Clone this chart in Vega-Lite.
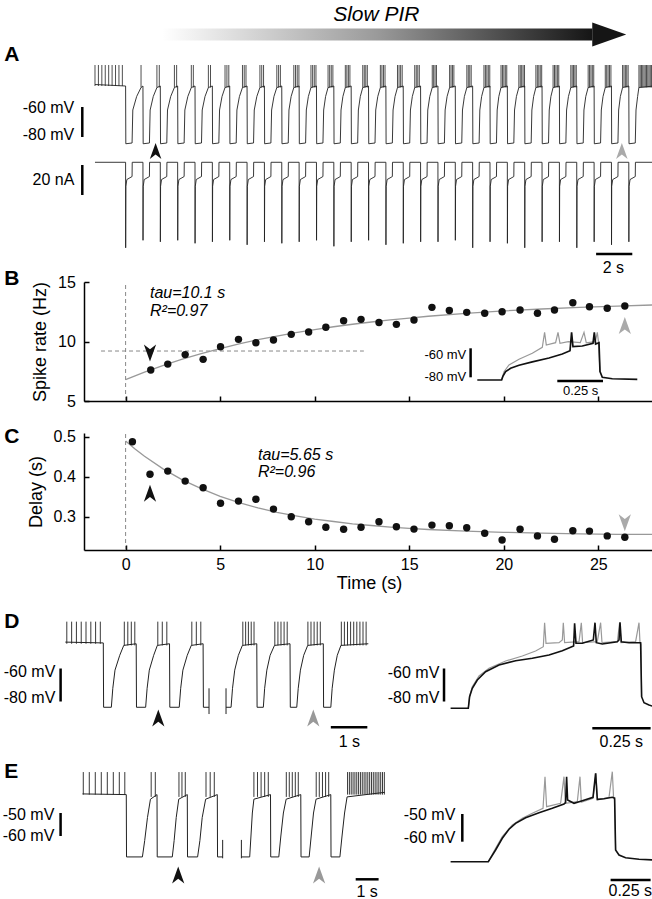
{
"$schema":"https://vega.github.io/schema/vega-lite/v6.json",
"padding":{"left":2,"top":0,"right":0,"bottom":0},
"background":"white",
"bounds":"flush",
"spacing":0,
"config":{"view":{"stroke":null},"font":"Liberation Sans","axis":{"grid":false}},
"datasets":{
"bPts":[{"t":1.33,"v":7.6},{"t":2.23,"v":8.1},{"t":3.15,"v":8.9},{"t":4.1,"v":8.5},{"t":5.02,"v":9.56},{"t":5.97,"v":10.18},{"t":6.89,"v":9.9},{"t":7.82,"v":10.13},{"t":8.76,"v":10.6},{"t":9.68,"v":10.8},{"t":10.59,"v":11.2},{"t":11.53,"v":11.75},{"t":12.45,"v":11.86},{"t":13.4,"v":11.6},{"t":14.32,"v":11.44},{"t":15.25,"v":11.8},{"t":16.2,"v":12.87},{"t":17.12,"v":12.6},{"t":18.04,"v":12.45},{"t":18.99,"v":12.37},{"t":19.91,"v":12.5},{"t":20.86,"v":12.65},{"t":21.78,"v":12.37},{"t":22.68,"v":12.65},{"t":23.65,"v":13.26},{"t":24.53,"v":12.92},{"t":25.47,"v":12.79},{"t":26.4,"v":12.98}],
"bFit":[{"t":0,"v":6.8},{"t":1,"v":7.43},{"t":2,"v":8.0},{"t":3,"v":8.52},{"t":4,"v":8.99},{"t":5,"v":9.41},{"t":6,"v":9.8},{"t":7,"v":10.15},{"t":8,"v":10.46},{"t":9,"v":10.75},{"t":10,"v":11.0},{"t":11,"v":11.24},{"t":12,"v":11.45},{"t":13,"v":11.64},{"t":14,"v":11.82},{"t":15,"v":11.97},{"t":16,"v":12.12},{"t":18,"v":12.36},{"t":20,"v":12.57},{"t":22,"v":12.73},{"t":24,"v":12.87},{"t":26,"v":12.98},{"t":27.94,"v":13.07}],
"cPts":[{"t":0.36,"v":0.4875},{"t":1.29,"v":0.406},{"t":2.23,"v":0.414},{"t":3.15,"v":0.389},{"t":4.1,"v":0.3725},{"t":5.02,"v":0.3335},{"t":5.97,"v":0.339},{"t":6.89,"v":0.3435},{"t":7.82,"v":0.319},{"t":8.76,"v":0.3},{"t":9.68,"v":0.2875},{"t":10.59,"v":0.2735},{"t":11.53,"v":0.2685},{"t":12.45,"v":0.2735},{"t":13.4,"v":0.2875},{"t":14.32,"v":0.275},{"t":15.25,"v":0.269},{"t":16.2,"v":0.279},{"t":17.12,"v":0.2775},{"t":18.04,"v":0.2725},{"t":18.99,"v":0.2585},{"t":19.91,"v":0.2417},{"t":20.86,"v":0.2685},{"t":21.78,"v":0.252},{"t":22.68,"v":0.2435},{"t":23.65,"v":0.265},{"t":24.53,"v":0.264},{"t":25.47,"v":0.252},{"t":26.4,"v":0.2485}],
"cFit":[{"t":0,"v":0.489},{"t":0.5,"v":0.469},{"t":1,"v":0.451},{"t":2,"v":0.419},{"t":3,"v":0.392},{"t":4,"v":0.37},{"t":5,"v":0.351},{"t":6,"v":0.335},{"t":7,"v":0.322},{"t":8,"v":0.311},{"t":9,"v":0.302},{"t":10,"v":0.294},{"t":11,"v":0.288},{"t":12,"v":0.282},{"t":13,"v":0.278},{"t":14,"v":0.274},{"t":15,"v":0.271},{"t":16,"v":0.268},{"t":18,"v":0.264},{"t":20,"v":0.261},{"t":22,"v":0.259},{"t":24,"v":0.257},{"t":26,"v":0.256},{"t":27.94,"v":0.256}],
"aV":[{"t":-1.7,"v":-45},
{"t":0,"v":-46},{"t":0.012,"v":-84.5},{"t":0.36,"v":-84},{"t":0.4,"v":-62},{"t":0.614,"v":-53},{"t":0.858,"v":-47},
{"t":0.964,"v":-46},{"t":0.976,"v":-84.5},{"t":1.324,"v":-84},{"t":1.364,"v":-62},{"t":1.537,"v":-53},{"t":1.74,"v":-47},
{"t":1.928,"v":-46},{"t":1.94,"v":-84.5},{"t":2.288,"v":-84},{"t":2.328,"v":-62},{"t":2.505,"v":-53},{"t":2.712,"v":-47},
{"t":2.892,"v":-46},{"t":2.904,"v":-84.5},{"t":3.252,"v":-84},{"t":3.292,"v":-62},{"t":3.457,"v":-53},{"t":3.651,"v":-47},
{"t":3.856,"v":-46},{"t":3.868,"v":-84.5},{"t":4.216,"v":-84},{"t":4.256,"v":-62},{"t":4.412,"v":-53},{"t":4.599,"v":-47},
{"t":4.82,"v":-46},{"t":4.832,"v":-84.5},{"t":5.18,"v":-84},{"t":5.22,"v":-62},{"t":5.357,"v":-53},{"t":5.524,"v":-47},
{"t":5.784,"v":-46},{"t":5.796,"v":-84.5},{"t":6.144,"v":-84},{"t":6.184,"v":-62},{"t":6.324,"v":-53},{"t":6.493,"v":-47},
{"t":6.748,"v":-46},{"t":6.76,"v":-84.5},{"t":7.108,"v":-84},{"t":7.148,"v":-62},{"t":7.29,"v":-53},{"t":7.462,"v":-47},
{"t":7.712,"v":-46},{"t":7.724,"v":-84.5},{"t":8.072,"v":-84},{"t":8.112,"v":-62},{"t":8.242,"v":-53},{"t":8.401,"v":-47},
{"t":8.676,"v":-46},{"t":8.688,"v":-84.5},{"t":9.036,"v":-84},{"t":9.076,"v":-62},{"t":9.196,"v":-53},{"t":9.346,"v":-47},
{"t":9.64,"v":-46},{"t":9.652,"v":-84.5},{"t":10.0,"v":-84},{"t":10.04,"v":-62},{"t":10.154,"v":-53},{"t":10.298,"v":-47},
{"t":10.604,"v":-46},{"t":10.616,"v":-84.5},{"t":10.964,"v":-84},{"t":11.004,"v":-62},{"t":11.111,"v":-53},{"t":11.248,"v":-47},
{"t":11.568,"v":-46},{"t":11.58,"v":-84.5},{"t":11.928,"v":-84},{"t":11.968,"v":-62},{"t":12.072,"v":-53},{"t":12.207,"v":-47},
{"t":12.532,"v":-46},{"t":12.544,"v":-84.5},{"t":12.892,"v":-84},{"t":12.932,"v":-62},{"t":13.039,"v":-53},{"t":13.176,"v":-47},
{"t":13.496,"v":-46},{"t":13.508,"v":-84.5},{"t":13.856,"v":-84},{"t":13.896,"v":-62},{"t":14.01,"v":-53},{"t":14.154,"v":-47},
{"t":14.46,"v":-46},{"t":14.472,"v":-84.5},{"t":14.82,"v":-84},{"t":14.86,"v":-62},{"t":14.968,"v":-53},{"t":15.105,"v":-47},
{"t":15.424,"v":-46},{"t":15.436,"v":-84.5},{"t":15.784,"v":-84},{"t":15.824,"v":-62},{"t":15.929,"v":-53},{"t":16.063,"v":-47},
{"t":16.388,"v":-46},{"t":16.4,"v":-84.5},{"t":16.748,"v":-84},{"t":16.788,"v":-62},{"t":16.898,"v":-53},{"t":17.037,"v":-47},
{"t":17.352,"v":-46},{"t":17.364,"v":-84.5},{"t":17.712,"v":-84},{"t":17.752,"v":-62},{"t":17.861,"v":-53},{"t":18.0,"v":-47},
{"t":18.316,"v":-46},{"t":18.328,"v":-84.5},{"t":18.676,"v":-84},{"t":18.716,"v":-62},{"t":18.822,"v":-53},{"t":18.959,"v":-47},
{"t":19.28,"v":-46},{"t":19.292,"v":-84.5},{"t":19.64,"v":-84},{"t":19.68,"v":-62},{"t":19.779,"v":-53},{"t":19.909,"v":-47},
{"t":20.244,"v":-46},{"t":20.256,"v":-84.5},{"t":20.604,"v":-84},{"t":20.644,"v":-62},{"t":20.735,"v":-53},{"t":20.856,"v":-47},
{"t":21.208,"v":-46},{"t":21.22,"v":-84.5},{"t":21.568,"v":-84},{"t":21.608,"v":-62},{"t":21.712,"v":-53},{"t":21.847,"v":-47},
{"t":22.172,"v":-46},{"t":22.184,"v":-84.5},{"t":22.532,"v":-84},{"t":22.572,"v":-62},{"t":22.668,"v":-53},{"t":22.794,"v":-47},
{"t":23.136,"v":-46},{"t":23.148,"v":-84.5},{"t":23.496,"v":-84},{"t":23.536,"v":-62},{"t":23.628,"v":-53},{"t":23.75,"v":-47},
{"t":24.1,"v":-46},{"t":24.112,"v":-84.5},{"t":24.46,"v":-84},{"t":24.5,"v":-62},{"t":24.603,"v":-53},{"t":24.735,"v":-47},
{"t":25.064,"v":-46},{"t":25.076,"v":-84.5},{"t":25.424,"v":-84},{"t":25.464,"v":-62},{"t":25.566,"v":-53},{"t":25.698,"v":-47},
{"t":26.028,"v":-46},{"t":26.04,"v":-84.5},{"t":26.388,"v":-84},{"t":26.428,"v":-62},{"t":26.524,"v":-53},{"t":26.65,"v":-47},
{"t":26.992,"v":-46},{"t":27.004,"v":-84.5},{"t":27.352,"v":-84},{"t":27.392,"v":-62},{"t":27.486,"v":-53},{"t":27.611,"v":-47},
{"t":27.956,"v":-46},{"t":27.968,"v":-84.5},{"t":28.316,"v":-84},{"t":28.356,"v":-62},{"t":28.446,"v":-53},{"t":28.516,"v":-47},
{"t":29.356,"v":-46}],
"aS":[{"t":-1.7,"v":-46},{"t":-1.51,"v":-46},{"t":-1.32,"v":-46},{"t":-1.13,"v":-46},{"t":-0.94,"v":-46},{"t":-0.75,"v":-46},{"t":-0.56,"v":-46},{"t":-0.37,"v":-46},{"t":-0.18,"v":-46},
{"t":0.858,"v":-47},{"t":1.74,"v":-47},{"t":1.872,"v":-47},{"t":2.712,"v":-47},{"t":2.835,"v":-47},{"t":3.651,"v":-47},{"t":3.763,"v":-47},{"t":4.599,"v":-47},{"t":4.717,"v":-47},
{"t":5.524,"v":-47},{"t":5.629,"v":-47},{"t":5.734,"v":-47},{"t":6.493,"v":-47},{"t":6.591,"v":-47},{"t":6.689,"v":-47},{"t":7.462,"v":-47},{"t":7.563,"v":-47},{"t":7.664,"v":-47},{"t":8.401,"v":-47},{"t":8.5,"v":-47},{"t":8.599,"v":-47},
{"t":9.346,"v":-47},{"t":9.44,"v":-47},{"t":9.535,"v":-47},{"t":9.629,"v":-47},{"t":10.298,"v":-47},{"t":10.391,"v":-47},{"t":10.483,"v":-47},{"t":10.576,"v":-47},{"t":11.248,"v":-47},{"t":11.337,"v":-47},{"t":11.426,"v":-47},{"t":11.516,"v":-47},
{"t":12.207,"v":-47},{"t":12.292,"v":-47},{"t":12.377,"v":-47},{"t":12.462,"v":-47},{"t":13.176,"v":-47},{"t":13.26,"v":-47},{"t":13.344,"v":-47},{"t":13.429,"v":-47},{"t":14.154,"v":-47},{"t":14.24,"v":-47},{"t":14.326,"v":-47},{"t":14.413,"v":-47},
{"t":15.105,"v":-47},{"t":15.192,"v":-47},{"t":15.28,"v":-47},{"t":15.367,"v":-47},{"t":16.063,"v":-47},{"t":16.148,"v":-47},{"t":16.233,"v":-47},{"t":16.317,"v":-47},{"t":17.037,"v":-47},{"t":17.115,"v":-47},{"t":17.192,"v":-47},{"t":17.27,"v":-47},
{"t":18.0,"v":-47},{"t":18.079,"v":-47},{"t":18.159,"v":-47},{"t":18.238,"v":-47},{"t":18.959,"v":-47},{"t":19.039,"v":-47},{"t":19.12,"v":-47},{"t":19.2,"v":-47},
{"t":19.909,"v":-47},{"t":19.99,"v":-47},{"t":20.071,"v":-47},{"t":20.151,"v":-47},{"t":20.232,"v":-47},{"t":20.856,"v":-47},{"t":20.936,"v":-47},{"t":21.016,"v":-47},{"t":21.096,"v":-47},{"t":21.176,"v":-47},
{"t":21.847,"v":-47},{"t":21.926,"v":-47},{"t":22.005,"v":-47},{"t":22.084,"v":-47},{"t":22.163,"v":-47},{"t":22.794,"v":-47},{"t":22.875,"v":-47},{"t":22.956,"v":-47},{"t":23.036,"v":-47},{"t":23.117,"v":-47},
{"t":23.75,"v":-47},{"t":23.829,"v":-47},{"t":23.908,"v":-47},{"t":23.987,"v":-47},{"t":24.066,"v":-47},{"t":24.735,"v":-47},{"t":24.81,"v":-47},{"t":24.886,"v":-47},{"t":24.961,"v":-47},{"t":25.037,"v":-47},
{"t":25.698,"v":-47},{"t":25.775,"v":-47},{"t":25.853,"v":-47},{"t":25.93,"v":-47},{"t":26.008,"v":-47},{"t":26.65,"v":-47},{"t":26.728,"v":-47},{"t":26.806,"v":-47},{"t":26.885,"v":-47},{"t":26.963,"v":-47},
{"t":27.611,"v":-47},{"t":27.688,"v":-47},{"t":27.765,"v":-47},{"t":27.842,"v":-47},{"t":27.919,"v":-47},
{"t":28.52,"v":-47},{"t":28.59,"v":-47},{"t":28.66,"v":-47},{"t":28.73,"v":-47},{"t":28.8,"v":-47},{"t":28.87,"v":-47},{"t":28.94,"v":-47},{"t":29.01,"v":-47},{"t":29.08,"v":-47},{"t":29.15,"v":-47},{"t":29.22,"v":-47},{"t":29.29,"v":-47}],
"aI":[{"t":-1.7,"v":0},
{"t":0,"v":0},{"t":0.004,"v":-57},{"t":0.015,"v":-16},{"t":0.07,"v":-11.5},{"t":0.36,"v":-9.5},{"t":0.368,"v":0},
{"t":0.964,"v":0},{"t":0.968,"v":-52},{"t":0.979,"v":-16},{"t":1.034,"v":-11.5},{"t":1.324,"v":-9.5},{"t":1.332,"v":0},
{"t":1.928,"v":0},{"t":1.932,"v":-53},{"t":1.943,"v":-16},{"t":1.998,"v":-11.5},{"t":2.288,"v":-9.5},{"t":2.296,"v":0},
{"t":2.892,"v":0},{"t":2.896,"v":-52},{"t":2.907,"v":-16},{"t":2.962,"v":-11.5},{"t":3.252,"v":-9.5},{"t":3.26,"v":0},
{"t":3.856,"v":0},{"t":3.86,"v":-54},{"t":3.871,"v":-16},{"t":3.926,"v":-11.5},{"t":4.216,"v":-9.5},{"t":4.224,"v":0},
{"t":4.82,"v":0},{"t":4.824,"v":-53},{"t":4.835,"v":-16},{"t":4.89,"v":-11.5},{"t":5.18,"v":-9.5},{"t":5.188,"v":0},
{"t":5.784,"v":0},{"t":5.788,"v":-52},{"t":5.799,"v":-16},{"t":5.854,"v":-11.5},{"t":6.144,"v":-9.5},{"t":6.152,"v":0},
{"t":6.748,"v":0},{"t":6.752,"v":-55},{"t":6.763,"v":-16},{"t":6.818,"v":-11.5},{"t":7.108,"v":-9.5},{"t":7.116,"v":0},
{"t":7.712,"v":0},{"t":7.716,"v":-53},{"t":7.727,"v":-16},{"t":7.782,"v":-11.5},{"t":8.072,"v":-9.5},{"t":8.08,"v":0},
{"t":8.676,"v":0},{"t":8.68,"v":-54},{"t":8.691,"v":-16},{"t":8.746,"v":-11.5},{"t":9.036,"v":-9.5},{"t":9.044,"v":0},
{"t":9.64,"v":0},{"t":9.644,"v":-53},{"t":9.655,"v":-16},{"t":9.71,"v":-11.5},{"t":10.0,"v":-9.5},{"t":10.008,"v":0},
{"t":10.604,"v":0},{"t":10.608,"v":-52},{"t":10.619,"v":-16},{"t":10.674,"v":-11.5},{"t":10.964,"v":-9.5},{"t":10.972,"v":0},
{"t":11.568,"v":0},{"t":11.572,"v":-56},{"t":11.583,"v":-16},{"t":11.638,"v":-11.5},{"t":11.928,"v":-9.5},{"t":11.936,"v":0},
{"t":12.532,"v":0},{"t":12.536,"v":-53},{"t":12.547,"v":-16},{"t":12.602,"v":-11.5},{"t":12.892,"v":-9.5},{"t":12.9,"v":0},
{"t":13.496,"v":0},{"t":13.5,"v":-52},{"t":13.511,"v":-16},{"t":13.566,"v":-11.5},{"t":13.856,"v":-9.5},{"t":13.864,"v":0},
{"t":14.46,"v":0},{"t":14.464,"v":-55},{"t":14.475,"v":-16},{"t":14.53,"v":-11.5},{"t":14.82,"v":-9.5},{"t":14.828,"v":0},
{"t":15.424,"v":0},{"t":15.428,"v":-54},{"t":15.439,"v":-16},{"t":15.494,"v":-11.5},{"t":15.784,"v":-9.5},{"t":15.792,"v":0},
{"t":16.388,"v":0},{"t":16.392,"v":-53},{"t":16.403,"v":-16},{"t":16.458,"v":-11.5},{"t":16.748,"v":-9.5},{"t":16.756,"v":0},
{"t":17.352,"v":0},{"t":17.356,"v":-53},{"t":17.367,"v":-16},{"t":17.422,"v":-11.5},{"t":17.712,"v":-9.5},{"t":17.72,"v":0},
{"t":18.316,"v":0},{"t":18.32,"v":-52},{"t":18.331,"v":-16},{"t":18.386,"v":-11.5},{"t":18.676,"v":-9.5},{"t":18.684,"v":0},
{"t":19.28,"v":0},{"t":19.284,"v":-57},{"t":19.295,"v":-16},{"t":19.35,"v":-11.5},{"t":19.64,"v":-9.5},{"t":19.648,"v":0},
{"t":20.244,"v":0},{"t":20.248,"v":-53},{"t":20.259,"v":-16},{"t":20.314,"v":-11.5},{"t":20.604,"v":-9.5},{"t":20.612,"v":0},
{"t":21.208,"v":0},{"t":21.212,"v":-54},{"t":21.223,"v":-16},{"t":21.278,"v":-11.5},{"t":21.568,"v":-9.5},{"t":21.576,"v":0},
{"t":22.172,"v":0},{"t":22.176,"v":-57},{"t":22.187,"v":-16},{"t":22.242,"v":-11.5},{"t":22.532,"v":-9.5},{"t":22.54,"v":0},
{"t":23.136,"v":0},{"t":23.14,"v":-53},{"t":23.151,"v":-16},{"t":23.206,"v":-11.5},{"t":23.496,"v":-9.5},{"t":23.504,"v":0},
{"t":24.1,"v":0},{"t":24.104,"v":-53},{"t":24.115,"v":-16},{"t":24.17,"v":-11.5},{"t":24.46,"v":-9.5},{"t":24.468,"v":0},
{"t":25.064,"v":0},{"t":25.068,"v":-57},{"t":25.079,"v":-16},{"t":25.134,"v":-11.5},{"t":25.424,"v":-9.5},{"t":25.432,"v":0},
{"t":26.028,"v":0},{"t":26.032,"v":-53},{"t":26.043,"v":-16},{"t":26.098,"v":-11.5},{"t":26.388,"v":-9.5},{"t":26.396,"v":0},
{"t":26.992,"v":0},{"t":26.996,"v":-55},{"t":27.007,"v":-16},{"t":27.062,"v":-11.5},{"t":27.352,"v":-9.5},{"t":27.36,"v":0},
{"t":27.956,"v":0},{"t":27.96,"v":-53},{"t":27.971,"v":-16},{"t":28.026,"v":-11.5},{"t":28.316,"v":-9.5},{"t":28.324,"v":0},
{"t":29.356,"v":0}],
"insB":[{"s":"g","t":0,"v":-81.86},{"s":"g","t":0.0131,"v":-76.1},{"s":"g","t":0.0404,"v":-71.5},{"s":"g","t":0.0951,"v":-67.6},{"s":"g","t":0.1678,"v":-63.4},{"s":"g","t":0.2224,"v":-59.3},{"s":"g","t":0.235,"v":-49},{"s":"g","t":0.2443,"v":-57.7},{"s":"g","t":0.2951,"v":-56.1},{"s":"g","t":0.3082,"v":-49},{"s":"g","t":0.3191,"v":-56.6},{"s":"g","t":0.3645,"v":-55.4},{"s":"g","t":0.43,"v":-56.1},{"s":"g","t":0.4503,"v":-49},{"s":"g","t":0.4628,"v":-56.3},{"s":"g","t":0.512,"v":-55.4},{"s":"g","t":0.523,"v":-49},{"s":"g","t":0.53,"v":-56.1},{"s":"g","t":0.5377,"v":-76.1},
{"s":"b","t":-0.1328,"v":-81.86},{"s":"b","t":0,"v":-81.86},{"s":"b","t":0.0077,"v":-79.1},{"s":"b","t":0.0219,"v":-76.1},{"s":"b","t":0.0492,"v":-73.8},{"s":"b","t":0.0951,"v":-71.7},{"s":"b","t":0.1678,"v":-69.4},{"s":"b","t":0.259,"v":-66.7},{"s":"b","t":0.3317,"v":-63.9},{"s":"b","t":0.3738,"v":-61.7},{"s":"b","t":0.3825,"v":-49},{"s":"b","t":0.39,"v":-58.9},{"s":"b","t":0.441,"v":-58.4},{"s":"b","t":0.4995,"v":-56.6},{"s":"b","t":0.5066,"v":-49},{"s":"b","t":0.5137,"v":-57},{"s":"b","t":0.5322,"v":-56.1},{"s":"b","t":0.5377,"v":-76.1},{"s":"b","t":0.5503,"v":-80},{"s":"b","t":0.6049,"v":-81},{"s":"b","t":0.7415,"v":-81.4}],
"dL":[{"g":1,"t":-1.041,"v":-44},{"g":1,"t":0,"v":-44.5},{"g":1,"t":0.008,"v":-83.5},{"g":1,"t":0.22,"v":-83.5},{"g":1,"t":0.26,"v":-72},{"g":1,"t":0.32,"v":-61},{"g":1,"t":0.45,"v":-52},{"g":1,"t":0.56,"v":-46},
{"g":1,"t":0.901,"v":-45},{"g":1,"t":0.909,"v":-83.5},{"g":1,"t":1.16,"v":-83.5},{"g":1,"t":1.2,"v":-72},{"g":1,"t":1.26,"v":-61},{"g":1,"t":1.38,"v":-52},{"g":1,"t":1.48,"v":-46},
{"g":1,"t":1.814,"v":-45},{"g":1,"t":1.822,"v":-83.5},{"g":1,"t":2.08,"v":-83.5},{"g":1,"t":2.12,"v":-72},{"g":1,"t":2.18,"v":-61},{"g":1,"t":2.3,"v":-52},{"g":1,"t":2.41,"v":-46},
{"g":1,"t":2.734,"v":-45},{"g":1,"t":2.742,"v":-83.5},{"g":1,"t":2.896,"v":-83.5},
{"g":2,"t":3.362,"v":-83.5},{"g":2,"t":3.5,"v":-83.5},{"g":2,"t":3.54,"v":-72},{"g":2,"t":3.6,"v":-61},{"g":2,"t":3.7,"v":-52},{"g":2,"t":3.81,"v":-46},
{"g":2,"t":4.205,"v":-45},{"g":2,"t":4.213,"v":-83.5},{"g":2,"t":4.384,"v":-83.5},{"g":2,"t":4.42,"v":-72},{"g":2,"t":4.48,"v":-61},{"g":2,"t":4.57,"v":-52},{"g":2,"t":4.69,"v":-46},
{"g":2,"t":5.115,"v":-45},{"g":2,"t":5.123,"v":-83.5},{"g":2,"t":5.3,"v":-83.5},{"g":2,"t":5.34,"v":-72},{"g":2,"t":5.4,"v":-61},{"g":2,"t":5.49,"v":-52},{"g":2,"t":5.6,"v":-46},
{"g":2,"t":6.027,"v":-45},{"g":2,"t":6.035,"v":-83.5},{"g":2,"t":6.233,"v":-83.5},{"g":2,"t":6.27,"v":-72},{"g":2,"t":6.33,"v":-61},{"g":2,"t":6.41,"v":-52},{"g":2,"t":6.51,"v":-46},{"g":2,"t":7.26,"v":-45}],
"dLS":[{"t":-1.0,"v":-45},{"t":-0.868,"v":-45},{"t":-0.737,"v":-45},{"t":-0.605,"v":-45},{"t":-0.474,"v":-45},{"t":-0.342,"v":-45},{"t":-0.211,"v":-45},{"t":-0.082,"v":-45},{"t":0.575,"v":-46},{"t":0.671,"v":-46},{"t":0.767,"v":-46},{"t":0.863,"v":-46},{"t":1.493,"v":-46},{"t":1.616,"v":-46},{"t":1.74,"v":-46},{"t":2.425,"v":-46},{"t":2.548,"v":-46},{"t":2.671,"v":-46},{"t":3.822,"v":-46},{"t":3.899,"v":-46},{"t":3.975,"v":-46},{"t":4.052,"v":-46},{"t":4.129,"v":-46},{"t":4.699,"v":-46},{"t":4.784,"v":-46},{"t":4.868,"v":-46},{"t":4.953,"v":-46},{"t":5.038,"v":-46},{"t":5.605,"v":-46},{"t":5.69,"v":-46},{"t":5.775,"v":-46},{"t":5.86,"v":-46},{"t":5.945,"v":-46},{"t":6.521,"v":-46},{"t":6.605,"v":-46},{"t":6.69,"v":-46},{"t":6.775,"v":-46},{"t":6.86,"v":-46},{"t":6.945,"v":-46},{"t":7.03,"v":-46},{"t":7.115,"v":-46},{"t":7.2,"v":-46}],
"dR":[{"s":"g","t":0,"v":-84.12},{"s":"g","t":0.0056,"v":-76.67},{"s":"g","t":0.0172,"v":-71.03},{"s":"g","t":0.0461,"v":-64.55},{"s":"g","t":0.0892,"v":-59.88},{"s":"g","t":0.1608,"v":-55.45},{"s":"g","t":0.2328,"v":-52.42},{"s":"g","t":0.2901,"v":-49.39},{"s":"g","t":0.3233,"v":-46.79},{"s":"g","t":0.3289,"v":-32.24},{"s":"g","t":0.3349,"v":-44.73},{"s":"g","t":0.3909,"v":-44.36},{"s":"g","t":0.4052,"v":-42.73},{"s":"g","t":0.4095,"v":-32.24},{"s":"g","t":0.4151,"v":-44.36},{"s":"g","t":0.4772,"v":-43.76},{"s":"g","t":0.4871,"v":-32.24},{"s":"g","t":0.4927,"v":-44.36},{"s":"g","t":0.556,"v":-43.76},{"s":"g","t":0.5703,"v":-32.24},{"s":"g","t":0.5763,"v":-44.36},{"s":"g","t":0.6422,"v":-43.76},{"s":"g","t":0.6522,"v":-32.24},{"s":"g","t":0.6582,"v":-44.36},{"s":"g","t":0.7211,"v":-43.76},{"s":"g","t":0.7358,"v":-32.24},{"s":"g","t":0.7401,"v":-44.36},{"s":"g","t":0.7444,"v":-45.15},{"s":"g","t":0.747,"v":-77.09},
{"s":"b","t":-0.0763,"v":-84.12},{"s":"b","t":0,"v":-84.12},{"s":"b","t":0.0056,"v":-77.09},{"s":"b","t":0.0172,"v":-72},{"s":"b","t":0.0388,"v":-66.97},{"s":"b","t":0.0746,"v":-61.94},{"s":"b","t":0.1323,"v":-57.88},{"s":"b","t":0.2039,"v":-55.27},{"s":"b","t":0.2759,"v":-53.82},{"s":"b","t":0.3478,"v":-51.82},{"s":"b","t":0.4052,"v":-49.21},{"s":"b","t":0.4409,"v":-47.15},{"s":"b","t":0.4539,"v":-46.36},{"s":"b","t":0.4582,"v":-32.61},{"s":"b","t":0.4642,"v":-44.73},{"s":"b","t":0.4914,"v":-44.73},{"s":"b","t":0.5388,"v":-42.73},{"s":"b","t":0.5461,"v":-32.24},{"s":"b","t":0.5517,"v":-44.36},{"s":"b","t":0.5776,"v":-45.15},{"s":"b","t":0.6422,"v":-43.76},{"s":"b","t":0.6496,"v":-42.73},{"s":"b","t":0.6539,"v":-32},{"s":"b","t":0.6595,"v":-43.76},{"s":"b","t":0.6927,"v":-44.36},{"s":"b","t":0.7427,"v":-44.36},{"s":"b","t":0.747,"v":-77.09},{"s":"b","t":0.7573,"v":-80.73},{"s":"b","t":0.7789,"v":-82.12},{"s":"b","t":0.8004,"v":-83.15}],
"eL":[{"g":1,"t":-1.904,"v":-41.7},{"g":1,"t":0,"v":-42},{"g":1,"t":0.01,"v":-69.1},{"g":1,"t":0.7,"v":-69.1},{"g":1,"t":0.8,"v":-62},{"g":1,"t":0.92,"v":-52},{"g":1,"t":1.05,"v":-44},
{"g":1,"t":1.335,"v":-42},{"g":1,"t":1.345,"v":-69.1},{"g":1,"t":2.0,"v":-69.1},{"g":1,"t":2.08,"v":-62},{"g":1,"t":2.17,"v":-52},{"g":1,"t":2.28,"v":-44},
{"g":1,"t":2.652,"v":-42},{"g":1,"t":2.662,"v":-69.1},{"g":1,"t":3.1,"v":-69.1},{"g":1,"t":3.2,"v":-62},{"g":1,"t":3.3,"v":-52},{"g":1,"t":3.45,"v":-44},
{"g":1,"t":3.957,"v":-42},{"g":1,"t":3.967,"v":-69.1},{"g":1,"t":4.19,"v":-69.1},
{"g":2,"t":5.004,"v":-69.1},{"g":2,"t":5.365,"v":-69.1},{"g":2,"t":5.42,"v":-60},{"g":2,"t":5.48,"v":-50},{"g":2,"t":5.548,"v":-44},
{"g":2,"t":6.27,"v":-42},{"g":2,"t":6.28,"v":-69.1},{"g":2,"t":6.63,"v":-69.1},{"g":2,"t":6.72,"v":-60},{"g":2,"t":6.83,"v":-50},{"g":2,"t":6.95,"v":-44},
{"g":2,"t":7.587,"v":-42},{"g":2,"t":7.597,"v":-69.1},{"g":2,"t":7.95,"v":-69.1},{"g":2,"t":8.04,"v":-60},{"g":2,"t":8.14,"v":-50},{"g":2,"t":8.25,"v":-44},
{"g":2,"t":8.891,"v":-42},{"g":2,"t":8.901,"v":-69.1},{"g":2,"t":9.287,"v":-69.1},{"g":2,"t":9.38,"v":-60},{"g":2,"t":9.49,"v":-50},{"g":2,"t":9.6,"v":-43},{"g":2,"t":11.24,"v":-41}],
"eLS":[{"t":-1.87,"v":-42},{"t":-1.609,"v":-42},{"t":-1.348,"v":-42},{"t":-1.087,"v":-42},{"t":-0.826,"v":-42},{"t":-0.565,"v":-42},{"t":-0.304,"v":-42},{"t":-0.065,"v":-42},{"t":1.082,"v":-43},{"t":1.261,"v":-43},{"t":2.29,"v":-43},{"t":2.42,"v":-43},{"t":2.565,"v":-43},{"t":3.466,"v":-43},{"t":3.648,"v":-43},{"t":3.826,"v":-43},{"t":5.548,"v":-43},{"t":5.704,"v":-43},{"t":5.861,"v":-43},{"t":6.017,"v":-43},{"t":6.174,"v":-43},{"t":6.957,"v":-43},{"t":7.087,"v":-43},{"t":7.217,"v":-43},{"t":7.348,"v":-43},{"t":7.478,"v":-43},{"t":8.257,"v":-43},{"t":8.391,"v":-43},{"t":8.53,"v":-43},{"t":8.665,"v":-43},{"t":8.8,"v":-43},
{"t":9.62,"v":-42},{"t":9.7,"v":-42},{"t":9.78,"v":-42},{"t":9.86,"v":-42},{"t":9.94,"v":-42},{"t":10.02,"v":-42},{"t":10.1,"v":-42},{"t":10.18,"v":-42},{"t":10.26,"v":-42},{"t":10.34,"v":-42},{"t":10.42,"v":-42},{"t":10.5,"v":-42},{"t":10.58,"v":-42},{"t":10.66,"v":-42},{"t":10.74,"v":-42},{"t":10.82,"v":-42},{"t":10.9,"v":-42},{"t":10.98,"v":-42},{"t":11.06,"v":-42},{"t":11.14,"v":-42},{"t":11.22,"v":-42}],
"eR":[{"s":"g","t":0,"v":-67.22},{"s":"g","t":0.0456,"v":-62.38},{"s":"g","t":0.0875,"v":-58.19},{"s":"g","t":0.15,"v":-53.97},{"s":"g","t":0.2125,"v":-51.55},{"s":"g","t":0.275,"v":-49.75},{"s":"g","t":0.3419,"v":-47.94},{"s":"g","t":0.3544,"v":-36.53},{"s":"g","t":0.3644,"v":-47.36},{"s":"g","t":0.4519,"v":-46.14},{"s":"g","t":0.4731,"v":-36.53},{"s":"g","t":0.4813,"v":-46.14},{"s":"g","t":0.5563,"v":-45.56},{"s":"g","t":0.5731,"v":-36.53},{"s":"g","t":0.5813,"v":-45.78},{"s":"g","t":0.6544,"v":-44.33},{"s":"g","t":0.6731,"v":-35.31},{"s":"g","t":0.6813,"v":-44.95},{"s":"g","t":0.7544,"v":-43.97},{"s":"g","t":0.775,"v":-34.73},{"s":"g","t":0.7831,"v":-44.33},{"s":"g","t":0.7894,"v":-44.69},{"s":"g","t":0.7956,"v":-63},
{"s":"b","t":-0.2356,"v":-67.22},{"s":"b","t":0,"v":-67.22},{"s":"b","t":0.0456,"v":-63},{"s":"b","t":0.0875,"v":-58.77},{"s":"b","t":0.1294,"v":-55.52},{"s":"b","t":0.1706,"v":-53.36},{"s":"b","t":0.2331,"v":-51.34},{"s":"b","t":0.3169,"v":-49.53},{"s":"b","t":0.4,"v":-47.94},{"s":"b","t":0.4731,"v":-46.39},{"s":"b","t":0.4831,"v":-45.92},{"s":"b","t":0.4894,"v":-36.53},{"s":"b","t":0.4956,"v":-44.95},{"s":"b","t":0.5356,"v":-46.14},{"s":"b","t":0.5875,"v":-45.2},{"s":"b","t":0.6544,"v":-43.97},{"s":"b","t":0.6706,"v":-35.31},{"s":"b","t":0.6813,"v":-44.69},{"s":"b","t":0.7231,"v":-44.48},{"s":"b","t":0.775,"v":-43.97},{"s":"b","t":0.7894,"v":-44.22},{"s":"b","t":0.7956,"v":-63},{"s":"b","t":0.8169,"v":-64.8},{"s":"b","t":0.8581,"v":-65.78},{"s":"b","t":0.9419,"v":-66.35},{"s":"b","t":1.0356,"v":-66.61}]
},
"vconcat":[
{"width":570,"height":50,
 "encoding":{"x":{"field":"t","type":"quantitative","scale":{"domain":[-2.311,29.356],"nice":false,"zero":false},"axis":null},
             "y":{"field":"v","type":"quantitative","scale":{"domain":[0,10],"nice":false,"zero":false},"axis":null}},
 "layer":[
  {"data":{"values":[{"t":2.04,"t2":25.93,"v":1.9,"v2":4.3}]},
   "mark":{"type":"rect","color":{"gradient":"linear","x1":0,"y1":0,"x2":1,"y2":0,"stops":[{"offset":0,"color":"#ffffff"},{"offset":0.5,"color":"#9a9a9a"},{"offset":1,"color":"#151515"}]}},
   "encoding":{"x2":{"field":"t2"},"y2":{"field":"v2"}}},
  {"data":{"values":[{"t":26.87,"v":3.1}]},"mark":{"type":"point","shape":"M-1,-0.7L1,0L-1,0.7Z","filled":true,"size":1156,"color":"#151515","opacity":1,"strokeWidth":0}},
  {"data":{"values":[{"t":13.93,"v":7.0,"txt":"Slow PIR"}]},"mark":{"type":"text","fontSize":21,"fontStyle":"italic","align":"center","baseline":"middle","color":"#000"},"encoding":{"text":{"field":"txt"}}}
 ]},
{"width":570,"height":110,
 "encoding":{"x":{"field":"t","type":"quantitative","scale":{"domain":[-2.311,29.356],"nice":false,"zero":false},"axis":null},
             "y":{"field":"v","type":"quantitative","scale":{"domain":[-95.33,-22],"nice":false,"zero":false},"axis":null}},
 "layer":[
  {"data":{"name":"aV"},"mark":{"type":"line","color":"#222","strokeWidth":0.9}},
  {"data":{"name":"aS"},"mark":{"type":"rule","color":"#222","strokeWidth":0.8},"encoding":{"y2":{"datum":-32}}},
  {"data":{"values":[{"t":-2.406,"v":-60,"v2":-80}]},"mark":{"type":"rule","color":"#000","strokeWidth":2.5},"encoding":{"y2":{"field":"v2"}}},
  {"data":{"values":[{"t":-2.85,"v":-60.67,"txt":"-60 mV"},{"t":-2.85,"v":-78.67,"txt":"-80 mV"}]},"mark":{"type":"text","align":"right","baseline":"middle","fontSize":16,"color":"#000"},"encoding":{"text":{"field":"txt"}}},
  {"data":{"values":[{"t":-6.739,"v":-25.33,"txt":"A"}]},"mark":{"type":"text","align":"left","baseline":"middle","fontSize":21,"fontWeight":"bold","color":"#000"},"encoding":{"text":{"field":"txt"}}},
  {"data":{"values":[{"t":1.667,"v":-89.3}]},"mark":{"type":"point","shape":"M0,-1L0.72,1L0,0.45L-0.72,1Z","filled":true,"size":256,"color":"#111","opacity":1,"strokeWidth":0}},
  {"data":{"values":[{"t":27.57,"v":-89.3}]},"mark":{"type":"point","shape":"M0,-1L0.72,1L0,0.45L-0.72,1Z","filled":true,"size":256,"color":"#aaa","opacity":1,"strokeWidth":0}}
 ]},
{"width":570,"height":122,
 "encoding":{"x":{"field":"t","type":"quantitative","scale":{"domain":[-2.311,29.356],"nice":false,"zero":false},"axis":null},
             "y":{"field":"v","type":"quantitative","scale":{"domain":[-79.8,1.53],"nice":false,"zero":false},"axis":null}},
 "layer":[
  {"data":{"name":"aI"},"mark":{"type":"line","color":"#222","strokeWidth":0.9}},
  {"data":{"values":[{"t":-2.406,"v":-1.8,"v2":-21.8}]},"mark":{"type":"rule","color":"#000","strokeWidth":2.5},"encoding":{"y2":{"field":"v2"}}},
  {"data":{"values":[{"t":-2.85,"v":-11.8,"txt":"20 nA"}]},"mark":{"type":"text","align":"right","baseline":"middle","fontSize":16,"color":"#000"},"encoding":{"text":{"field":"txt"}}},
  {"data":{"values":[{"t":26.14,"t2":28.15,"v":-61.1}]},"mark":{"type":"rule","color":"#000","strokeWidth":2.5},"encoding":{"x2":{"field":"t2"}}},
  {"data":{"values":[{"t":27.1,"v":-70.5,"txt":"2 s"}]},"mark":{"type":"text","align":"center","baseline":"middle","fontSize":16,"color":"#000"},"encoding":{"text":{"field":"txt"}}}
 ]},
{"width":570,"height":119,
 "resolve":{"scale":{"x":"independent","y":"independent"}},
 "layer":[
  {"encoding":{"x":{"field":"t","type":"quantitative","scale":{"domain":[-2.2,27.943],"nice":false,"zero":false},
                    "axis":{"values":[0,5,10,15,20,25],"labels":false,"title":null,"tickSize":-5,"tickWidth":1.5,"tickColor":"#000","domainColor":"#000","domainWidth":1.5}},
               "y":{"field":"v","type":"quantitative","scale":{"domain":[5,15],"nice":false,"zero":false},
                    "axis":{"values":[5,10,15],"title":"Spike rate (Hz)","titleFontSize":18,"titleFontWeight":"normal","titleColor":"#000","titlePadding":8,"labelFontSize":16,"labelColor":"#000","labelPadding":13.7,"tickSize":-5,"tickWidth":1.5,"tickColor":"#000","domainColor":"#000","domainWidth":1.5}}},
   "layer":[
    {"data":{"values":[{"t":0,"v":5,"v2":15}]},"mark":{"type":"rule","color":"#888","strokeWidth":1,"strokeDash":[4,3]},"encoding":{"y2":{"field":"v2"}}},
    {"data":{"values":[{"t":-1.3,"t2":12.6,"v":9.2}]},"mark":{"type":"rule","color":"#888","strokeWidth":1,"strokeDash":[4,3]},"encoding":{"x2":{"field":"t2"}}},
    {"data":{"name":"bFit"},"mark":{"type":"line","color":"#999","strokeWidth":1.3}},
    {"data":{"name":"bPts"},"mark":{"type":"circle","size":55,"color":"#111","opacity":1}},
    {"data":{"values":[{"t":1.29,"v":9.03}]},"mark":{"type":"point","shape":"M0,1L0.72,-1L0,-0.45L-0.72,-1Z","filled":true,"size":289,"color":"#111","opacity":1,"strokeWidth":0}},
    {"data":{"values":[{"t":26.4,"v":11.34}]},"mark":{"type":"point","shape":"M0,-1L0.72,1L0,0.45L-0.72,1Z","filled":true,"size":289,"color":"#aaa","opacity":1,"strokeWidth":0}},
    {"data":{"values":[{"t":1.29,"v":14.08,"txt":"tau=10.1 s"},{"t":1.29,"v":12.56,"txt":"R²=0.97"}]},"mark":{"type":"text","align":"left","baseline":"middle","fontSize":16,"fontStyle":"italic","color":"#000"},"encoding":{"text":{"field":"txt"}}},
    {"data":{"values":[{"t":-6.415,"v":15.29,"txt":"B"}]},"mark":{"type":"text","align":"left","baseline":"middle","fontSize":21,"fontWeight":"bold","color":"#000"},"encoding":{"text":{"field":"txt"}}}
   ]},
  {"encoding":{"x":{"field":"t","type":"quantitative","scale":{"domain":[-2.282,0.8328],"nice":false,"zero":false},"axis":null},
               "y":{"field":"v","type":"quantitative","scale":{"domain":[-96.34,-14.28],"nice":false,"zero":false},"axis":null}},
   "layer":[
    {"data":{"name":"insB"},"transform":[{"filter":"datum.s=='g'"}],"mark":{"type":"line","color":"#999","strokeWidth":1.2}},
    {"data":{"name":"insB"},"transform":[{"filter":"datum.s=='b'"}],"mark":{"type":"line","color":"#111","strokeWidth":1.7}},
    {"data":{"values":[{"t":-0.1694,"v":-60,"v2":-80}]},"mark":{"type":"rule","color":"#000","strokeWidth":2.5},"encoding":{"y2":{"field":"v2"}}},
    {"data":{"values":[{"t":0.3044,"t2":0.5541,"v":-82.55}]},"mark":{"type":"rule","color":"#000","strokeWidth":2.5},"encoding":{"x2":{"field":"t2"}}},
    {"data":{"values":[{"t":-0.193,"v":-64.6,"txt":"-60 mV"},{"t":-0.193,"v":-80,"txt":"-80 mV"}]},"mark":{"type":"text","align":"right","baseline":"middle","fontSize":13,"color":"#000"},"encoding":{"text":{"field":"txt"}}},
    {"data":{"values":[{"t":0.4317,"v":-89.4,"txt":"0.25 s"}]},"mark":{"type":"text","align":"center","baseline":"middle","fontSize":13,"color":"#000"},"encoding":{"text":{"field":"txt"}}}
   ]}
 ]},
{"width":570,"height":32,"data":{"values":[{"t":0}]},"mark":{"type":"point","opacity":0},"encoding":{"x":{"field":"t","type":"quantitative","axis":null}}},
{"width":570,"height":117,
 "encoding":{"x":{"field":"t","type":"quantitative","scale":{"domain":[-2.2,27.943],"nice":false,"zero":false},
                  "axis":{"values":[0,5,10,15,20,25],"title":"Time (s)","titleFontSize":18,"titleFontWeight":"normal","titleColor":"#000","titlePadding":2,"labelFontSize":16,"labelColor":"#000","labelPadding":11,"tickSize":-5,"tickWidth":1.5,"tickColor":"#000","domainColor":"#000","domainWidth":1.5}},
             "y":{"field":"v","type":"quantitative","scale":{"domain":[0.21675,0.50925],"nice":false,"zero":false},
                  "axis":{"values":[0.3,0.4,0.5],"format":".1f","title":"Delay (s)","titleFontSize":18,"titleFontWeight":"normal","titleColor":"#000","titlePadding":8,"labelFontSize":16,"labelColor":"#000","labelPadding":13.7,"tickSize":-5,"tickWidth":1.5,"tickColor":"#000","domainColor":"#000","domainWidth":1.5}}},
 "layer":[
  {"data":{"values":[{"t":0,"v":0.21675,"v2":0.50925}]},"mark":{"type":"rule","color":"#888","strokeWidth":1,"strokeDash":[4,3]},"encoding":{"y2":{"field":"v2"}}},
  {"data":{"name":"cFit"},"mark":{"type":"line","color":"#999","strokeWidth":1.3}},
  {"data":{"name":"cPts"},"mark":{"type":"circle","size":55,"color":"#111","opacity":1}},
  {"data":{"values":[{"t":1.29,"v":0.3585}]},"mark":{"type":"point","shape":"M0,-1L0.72,1L0,0.45L-0.72,1Z","filled":true,"size":289,"color":"#111","opacity":1,"strokeWidth":0}},
  {"data":{"values":[{"t":26.4,"v":0.285}]},"mark":{"type":"point","shape":"M0,1L0.72,-1L0,-0.45L-0.72,-1Z","filled":true,"size":289,"color":"#aaa","opacity":1,"strokeWidth":0}},
  {"data":{"values":[{"t":7.0,"v":0.4543,"txt":"tau=5.65 s"},{"t":7.0,"v":0.411,"txt":"R²=0.96"}]},"mark":{"type":"text","align":"left","baseline":"middle","fontSize":16,"fontStyle":"italic","color":"#000"},"encoding":{"text":{"field":"txt"}}},
  {"data":{"values":[{"t":-6.415,"v":0.5005,"txt":"C"}]},"mark":{"type":"text","align":"left","baseline":"middle","fontSize":21,"fontWeight":"bold","color":"#000"},"encoding":{"text":{"field":"txt"}}}
 ]},
{"width":570,"height":200,
 "resolve":{"scale":{"x":"independent","y":"independent"}},
 "layer":[
  {"encoding":{"x":{"field":"t","type":"quantitative","scale":{"domain":[-0.529,15.087],"nice":false,"zero":false},"axis":null},
               "y":{"field":"v","type":"quantitative","scale":{"domain":[-109.39,11.82],"nice":false,"zero":false},"axis":null}},
   "layer":[
    {"data":{"name":"dL"},"mark":{"type":"line","color":"#222","strokeWidth":1},"encoding":{"detail":{"field":"g"}}},
    {"data":{"name":"dLS"},"mark":{"type":"rule","color":"#222","strokeWidth":0.9},"encoding":{"y2":{"datum":-31.6}}},
    {"data":{"values":[{"t":2.896,"v":-72},{"t":3.362,"v":-72}]},"mark":{"type":"rule","color":"#222","strokeWidth":1},"encoding":{"y2":{"datum":-87.6}}},
    {"data":{"values":[{"t":-1.17,"v":-60,"v2":-80}]},"mark":{"type":"rule","color":"#000","strokeWidth":2.5},"encoding":{"y2":{"field":"v2"}}},
    {"data":{"values":[{"t":-1.315,"v":-62.1,"txt":"-60 mV"},{"t":-1.315,"v":-77.9,"txt":"-80 mV"}]},"mark":{"type":"text","align":"right","baseline":"middle","fontSize":16,"color":"#000"},"encoding":{"text":{"field":"txt"}}},
    {"data":{"values":[{"t":-2.712,"v":-31.52,"txt":"D"}]},"mark":{"type":"text","align":"left","baseline":"middle","fontSize":21,"fontWeight":"bold","color":"#000"},"encoding":{"text":{"field":"txt"}}},
    {"data":{"values":[{"t":1.507,"v":-90}]},"mark":{"type":"point","shape":"M0,-1L0.72,1L0,0.45L-0.72,1Z","filled":true,"size":289,"color":"#111","opacity":1,"strokeWidth":0}},
    {"data":{"values":[{"t":5.753,"v":-90}]},"mark":{"type":"point","shape":"M0,-1L0.72,1L0,0.45L-0.72,1Z","filled":true,"size":289,"color":"#999","opacity":1,"strokeWidth":0}},
    {"data":{"values":[{"t":6.233,"t2":7.233,"v":-95.64}]},"mark":{"type":"rule","color":"#000","strokeWidth":2.5},"encoding":{"x2":{"field":"t2"}}},
    {"data":{"values":[{"t":6.74,"v":-104.4,"txt":"1 s"}]},"mark":{"type":"text","align":"center","baseline":"middle","fontSize":16,"color":"#000"},"encoding":{"text":{"field":"txt"}}}
   ]},
  {"encoding":{"x":{"field":"t","type":"quantitative","scale":{"domain":[-1.6565,0.8004],"nice":false,"zero":false},"axis":null},
               "y":{"field":"v","type":"quantitative","scale":{"domain":[-109.39,11.82],"nice":false,"zero":false},"axis":null}},
   "layer":[
    {"data":{"name":"dR"},"transform":[{"filter":"datum.s=='g'"}],"mark":{"type":"line","color":"#999","strokeWidth":1.2}},
    {"data":{"name":"dR"},"transform":[{"filter":"datum.s=='b'"}],"mark":{"type":"line","color":"#111","strokeWidth":1.6}},
    {"data":{"values":[{"t":-0.1047,"v":-60,"v2":-80}]},"mark":{"type":"rule","color":"#000","strokeWidth":2.5},"encoding":{"y2":{"field":"v2"}}},
    {"data":{"values":[{"t":-0.125,"v":-62.9,"txt":"-60 mV"},{"t":-0.125,"v":-78.1,"txt":"-80 mV"}]},"mark":{"type":"text","align":"right","baseline":"middle","fontSize":16,"color":"#000"},"encoding":{"text":{"field":"txt"}}},
    {"data":{"values":[{"t":0.5345,"t2":0.7858,"v":-96.24}]},"mark":{"type":"rule","color":"#000","strokeWidth":2.5},"encoding":{"x2":{"field":"t2"}}},
    {"data":{"values":[{"t":0.6595,"v":-104.4,"txt":"0.25 s"}]},"mark":{"type":"text","align":"center","baseline":"middle","fontSize":16,"color":"#000"},"encoding":{"text":{"field":"txt"}}}
   ]}
 ]},
{"width":570,"height":149,
 "resolve":{"scale":{"x":"independent","y":"independent"}},
 "layer":[
  {"encoding":{"x":{"field":"t","type":"quantitative","scale":{"domain":[-1.839,22.944],"nice":false,"zero":false},"axis":null},
               "y":{"field":"v","type":"quantitative","scale":{"domain":[-87.39,-22.61],"nice":false,"zero":false},"axis":null}},
   "layer":[
    {"data":{"name":"eL"},"mark":{"type":"line","color":"#222","strokeWidth":1},"encoding":{"detail":{"field":"g"}}},
    {"data":{"name":"eLS"},"mark":{"type":"rule","color":"#222","strokeWidth":0.9},"encoding":{"y2":{"datum":-32.2}}},
    {"data":{"values":[{"t":4.19,"v":-61.7},{"t":5.004,"v":-61.7}]},"mark":{"type":"rule","color":"#222","strokeWidth":1},"encoding":{"y2":{"datum":-69.7}}},
    {"data":{"values":[{"t":-2.857,"v":-50,"v2":-60}]},"mark":{"type":"rule","color":"#000","strokeWidth":2.5},"encoding":{"y2":{"field":"v2"}}},
    {"data":{"values":[{"t":-3.13,"v":-50.9,"txt":"-50 mV"},{"t":-3.13,"v":-60,"txt":"-60 mV"}]},"mark":{"type":"text","align":"right","baseline":"middle","fontSize":16,"color":"#000"},"encoding":{"text":{"field":"txt"}}},
    {"data":{"values":[{"t":-5.304,"v":-31.96,"txt":"E"}]},"mark":{"type":"text","align":"left","baseline":"middle","fontSize":21,"fontWeight":"bold","color":"#000"},"encoding":{"text":{"field":"txt"}}},
    {"data":{"values":[{"t":2.257,"v":-76.96}]},"mark":{"type":"point","shape":"M0,-1L0.72,1L0,0.45L-0.72,1Z","filled":true,"size":289,"color":"#111","opacity":1,"strokeWidth":0}},
    {"data":{"values":[{"t":8.383,"v":-76.96}]},"mark":{"type":"point","shape":"M0,-1L0.72,1L0,0.45L-0.72,1Z","filled":true,"size":289,"color":"#999","opacity":1,"strokeWidth":0}},
    {"data":{"values":[{"t":9.974,"t2":10.97,"v":-78.83}]},"mark":{"type":"rule","color":"#000","strokeWidth":2.5},"encoding":{"x2":{"field":"t2"}}},
    {"data":{"values":[{"t":10.47,"v":-84.2,"txt":"1 s"}]},"mark":{"type":"text","align":"center","baseline":"middle","fontSize":16,"color":"#000"},"encoding":{"text":{"field":"txt"}}}
   ]},
  {"encoding":{"x":{"field":"t","type":"quantitative","scale":{"domain":[-2.5269,1.0356],"nice":false,"zero":false},"axis":null},
               "y":{"field":"v","type":"quantitative","scale":{"domain":[-80.69,-26.9],"nice":false,"zero":false},"axis":null}},
   "layer":[
    {"data":{"name":"eR"},"transform":[{"filter":"datum.s=='g'"}],"mark":{"type":"line","color":"#999","strokeWidth":1.2}},
    {"data":{"name":"eR"},"transform":[{"filter":"datum.s=='b'"}],"mark":{"type":"line","color":"#111","strokeWidth":1.6}},
    {"data":{"values":[{"t":-0.1625,"v":-50,"v2":-60}]},"mark":{"type":"rule","color":"#000","strokeWidth":2.5},"encoding":{"y2":{"field":"v2"}}},
    {"data":{"values":[{"t":-0.206,"v":-50.36,"txt":"-50 mV"},{"t":-0.206,"v":-58.77,"txt":"-60 mV"}]},"mark":{"type":"text","align":"right","baseline":"middle","fontSize":16,"color":"#000"},"encoding":{"text":{"field":"txt"}}},
    {"data":{"values":[{"t":0.7644,"t2":1.0144,"v":-73.83}]},"mark":{"type":"rule","color":"#000","strokeWidth":2.5},"encoding":{"x2":{"field":"t2"}}},
    {"data":{"values":[{"t":0.8875,"v":-77.8,"txt":"0.25 s"}]},"mark":{"type":"text","align":"center","baseline":"middle","fontSize":16,"color":"#000"},"encoding":{"text":{"field":"txt"}}}
   ]}
 ]}
]
}
